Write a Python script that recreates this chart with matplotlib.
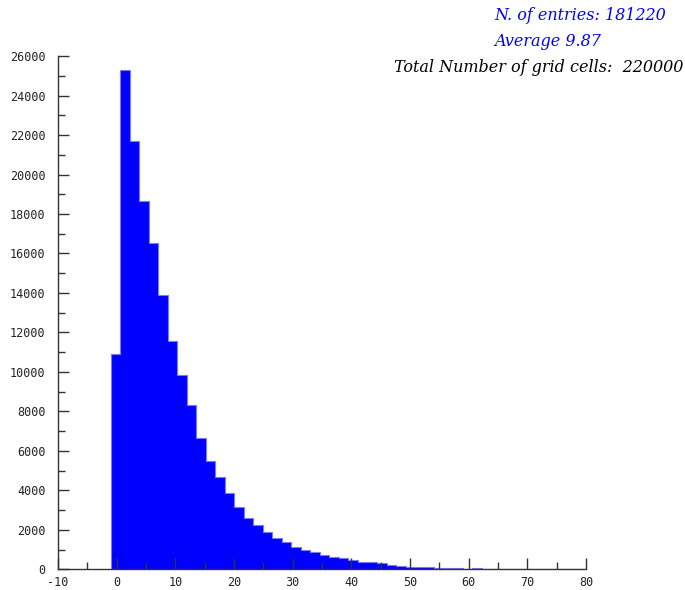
import matplotlib
matplotlib.use("Agg")
import matplotlib.pyplot as plt
import numpy as np
from matplotlib.ticker import MultipleLocator

plt.rcParams["axes.unicode_minus"] = False

# histogram: 50 bins from -1 to 80
bin_lo, bin_hi, n_bins = -1.0, 80.0, 50
counts = [10900, 25270, 21710, 18650, 16540, 13890, 11550, 9860, 8300, 6630,
          5510, 4670, 3850, 3170, 2590, 2250, 1910, 1580, 1410, 1140,
          990, 860, 740, 640, 550, 470, 370, 360, 300, 240,
          170, 120, 110, 100, 70, 60, 50, 40, 50, 20,
          40, 10, 8, 30, 6, 4, 3, 2, 2, 1]
n_entries = 181220
average = 9.87
grid_cells = 220000

edges = np.linspace(bin_lo, bin_hi, n_bins + 1)

fig = plt.figure(figsize=(6.85, 5.90), dpi=100)
ax = fig.add_axes([0.0847, 0.035, 0.771, 0.870])

ax.stairs(counts, edges, fill=True, color="#0000ff", edgecolor="#6f6fff", linewidth=0.6)
ax.stairs(counts, edges, color="#7a7aff", linewidth=0.8)

ax.set_xlim(-10, 80)
ax.set_ylim(0, 26000)

for s in ["top", "right"]:
    ax.spines[s].set_visible(False)
for s in ["left", "bottom"]:
    ax.spines[s].set_color("#333333")
    ax.spines[s].set_linewidth(1.0)

ax.xaxis.set_major_locator(MultipleLocator(10))
ax.xaxis.set_minor_locator(MultipleLocator(5))
ax.yaxis.set_major_locator(MultipleLocator(2000))
ax.yaxis.set_minor_locator(MultipleLocator(1000))
ax.tick_params(which="major", direction="in", length=8, width=1, color="#333333",
               labelsize=8.5, labelcolor="#222222", pad=9)
ax.tick_params(which="minor", direction="in", length=5, width=1, color="#333333")
ax.tick_params(axis="x", which="major", pad=5)
for lab in ax.get_xticklabels() + ax.get_yticklabels():
    lab.set_family("DejaVu Sans Mono")

fig.text(494 / 685, 1 - 15 / 590, f"N. of entries: {n_entries}", color="#0000ff",
         fontsize=11.5, family="DejaVu Serif", style="italic", ha="left", va="center")
fig.text(494 / 685, 1 - 42 / 590, f"Average {average:.2f}", color="#0000ff",
         fontsize=11.5, family="DejaVu Serif", style="italic", ha="left", va="center")
fig.text(683 / 685, 1 - 68 / 590, f"Total Number of grid cells:  {grid_cells}", color="black",
         fontsize=11.5, family="DejaVu Serif", style="italic", ha="right", va="center")

fig.savefig("out.png", dpi=100)
